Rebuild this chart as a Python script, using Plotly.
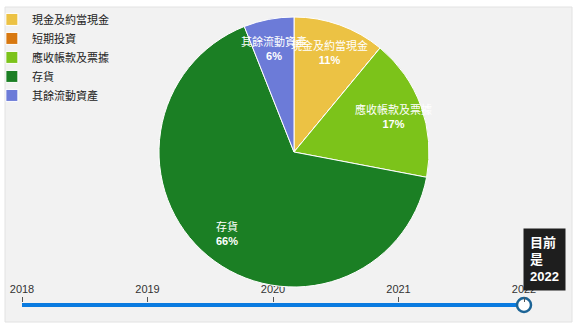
import math
import plotly.graph_objects as go

# ---- data ----
labels = ["現金及約當現金", "短期投資", "應收帳款及票據", "存貨", "其餘流動資產"]
values = [11, 0, 17, 66, 6]
colors = ["#ECC244", "#D87810", "#7CC31A", "#1B7F24", "#6C7BD8"]
years = [2018, 2019, 2020, 2021, 2022]
current_year = 2022

W, H = 580, 329
CX, CY, R = 294, 152, 135  # pie centre / radius in px

fig = go.Figure()

fig.add_trace(go.Pie(
    labels=labels, values=values, sort=False, direction="clockwise", rotation=0,
    marker=dict(colors=colors, line=dict(color="white", width=1)),
    textinfo="none", hoverinfo="none",
    domain=dict(x=[(CX - R) / W, (CX + R) / W], y=[1 - (CY + R) / H, 1 - (CY - R) / H]),
    showlegend=True,
))

# slice labels placed at mid-angle of each slice
total = sum(values)
cum = 0
annotations = []
for lab, v in zip(labels, values):
    if v > 0:
        mid = (cum + v / 2) / total * 2 * math.pi
        px = CX + 0.78 * R * math.sin(mid)
        py = CY - 0.78 * R * math.cos(mid)
        pct = round(v / total * 100)
        annotations.append(dict(
            x=px / W, y=1 - py / H, xref="paper", yref="paper", showarrow=False,
            xanchor="center", yanchor="middle",
            text=f"{lab}<br><b>{pct}%</b>", align="center",
            font=dict(color="white", size=11, family="Arial, Noto Sans CJK TC"),
        ))
    cum += v

# slider track drawn on an x axis spanning the years
fig.add_trace(go.Scatter(
    x=[years[0], years[-1]], y=[0, 0], mode="lines",
    line=dict(color="#0A7BE0", width=5), xaxis="x", yaxis="y",
    showlegend=False, hoverinfo="skip", cliponaxis=False,
))
fig.add_trace(go.Scatter(
    x=[current_year], y=[0], mode="markers",
    marker=dict(size=14, color="white", line=dict(color="#1C6496", width=2.5)),
    xaxis="x", yaxis="y", showlegend=False, hoverinfo="skip", cliponaxis=False,
))

annotations.append(dict(
    x=523 / W, y=1 - 228 / H, xref="paper", yref="paper", xanchor="left", yanchor="top",
    showarrow=False, text="<b>目前<br>是<br>" + str(current_year) + "</b>", align="left",
    font=dict(color="white", size=13, family="Arial, Noto Sans CJK TC"),
    bgcolor="#1E1E1E", borderpad=6,
))

fig.update_layout(
    width=W, height=H, margin=dict(l=0, r=0, t=0, b=0, autoexpand=False),
    paper_bgcolor="white", plot_bgcolor="rgba(0,0,0,0)",
    font=dict(family="Arial, Noto Sans CJK TC", color="#222"),
    xaxis=dict(domain=[22 / W, 524 / W], range=[years[0], years[-1]], side="top",
               tickvals=years, ticktext=[str(y) for y in years], ticks="outside",
               ticklen=5, tickcolor="#555", tickfont=dict(size=11, color="#333"),
               showgrid=False, zeroline=False, showline=False, fixedrange=True,
               automargin=False),
    yaxis=dict(domain=[1 - 307 / H, 1 - 303 / H], range=[-1, 1], visible=False,
               fixedrange=True, automargin=False),
    legend=dict(x=-0.014, y=0.985, xanchor="left", yanchor="top", itemwidth=30,
                font=dict(size=11, color="#222"), bgcolor="rgba(0,0,0,0)",
                itemclick=False, itemdoubleclick=False),
    shapes=[dict(type="rect", xref="paper", yref="paper", layer="below",
                 x0=5 / W, x1=572 / W, y0=1 - 322 / H, y1=1 - 7 / H,
                 fillcolor="#F2F2F2", line=dict(color="#E2E2E2", width=1))],
    annotations=annotations,
)

fig.write_html("out.html")
